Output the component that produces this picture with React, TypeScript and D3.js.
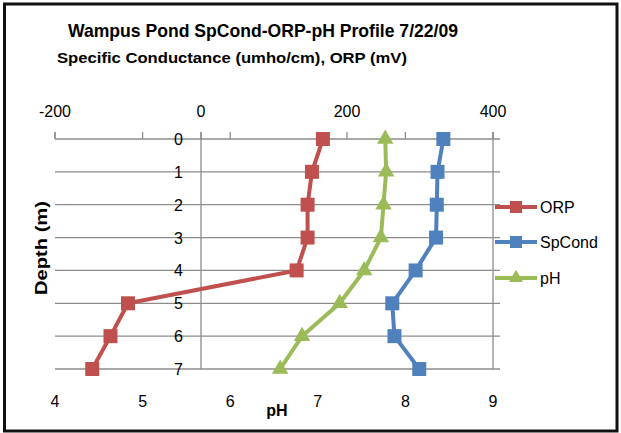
import React from "react";
import * as d3 from "d3";

// depth profile
const depths = [0, 1, 2, 3, 4, 5, 6, 7];
const orp = [167, 152, 146, 146, 131, -100, -124, -149];
const spCond = [332, 324, 323, 322, 294, 262, 265, 299];
const ph = [7.77, 7.78, 7.75, 7.72, 7.53, 7.25, 6.82, 6.57];

const topTicks = [-200, 0, 200, 400];
const phTicks = [4, 5, 6, 7, 8, 9];

const RED = "#C0504D";
const BLUE = "#4F81BD";
const GREEN = "#9BBB59";
const GRID = "#8c8c8c";
const FONT = "'Liberation Sans', Arial, sans-serif";

const W = 621;
const H = 433;
const plot = { left: 55, right: 493, top: 139, bottom: 369 };

const App = () => {
  const y = d3.scaleLinear().domain([0, 7]).range([plot.top, plot.bottom]);
  const xTop = d3.scaleLinear().domain([-200, 400]).range([plot.left, plot.right]);
  const xPh = d3.scaleLinear().domain([4, 9]).range([plot.left, plot.right]);

  const series = [
    { name: "ORP", color: RED, values: orp, x: xTop, marker: "square" },
    { name: "SpCond", color: BLUE, values: spCond, x: xTop, marker: "square" },
    { name: "pH", color: GREEN, values: ph, x: xPh, marker: "triangle" },
  ];

  const marker = (kind, cx, cy, color, s) =>
    kind === "square" ? (
      <rect x={cx - s / 2} y={cy - s / 2} width={s} height={s} fill={color} />
    ) : (
      <path
        d={d3.symbol().type(d3.symbolTriangle).size(s * s * 0.6)()}
        transform={`translate(${cx},${cy})`}
        fill={color}
      />
    );

  return (
    <div style={{ position: "absolute", left: 0, top: 0 }}>
      <svg width={W} height={H} style={{ display: "block" }}>
        <rect x={0} y={0} width={W} height={H} fill="#fff" />
        <rect x={4.5} y={4} width={612.5} height={427} fill="none" stroke="#111" strokeWidth={3} />

        {/* titles */}
        <text x={68} y={37} fontFamily={FONT} fontWeight="bold" fontSize={18.5}
          textLength={390} lengthAdjust="spacingAndGlyphs">
          Wampus Pond SpCond-ORP-pH Profile 7/22/09
        </text>
        <text x={57} y={63} fontFamily={FONT} fontWeight="bold" fontSize={14.5}
          textLength={350} lengthAdjust="spacingAndGlyphs">
          Specific Conductance  (umho/cm), ORP (mV)
        </text>

        {/* gridlines */}
        {depths.map(d => (
          <line key={"g" + d} x1={plot.left} x2={plot.right + 7} y1={y(d)} y2={y(d)}
            stroke={GRID} strokeWidth={1.3} />
        ))}
        <line x1={xTop(0)} x2={xTop(0)} y1={plot.top - 7} y2={plot.bottom} stroke={GRID} strokeWidth={1.3} />
        <line x1={plot.right} x2={plot.right} y1={plot.top - 7} y2={plot.bottom} stroke={GRID} strokeWidth={1.3} />

        {/* top tick marks */}
        {topTicks.map(t => (
          <line key={"tt" + t} x1={xTop(t)} x2={xTop(t)} y1={plot.top - 7} y2={plot.top}
            stroke={GRID} strokeWidth={1.3} />
        ))}
        {phTicks.map(t => (
          <line key={"pt" + t} x1={xPh(t)} x2={xPh(t)} y1={plot.top - 7} y2={plot.top}
            stroke={GRID} strokeWidth={1.3} />
        ))}

        {/* axis labels */}
        {topTicks.map(t => (
          <text key={"tl" + t} x={xTop(t)} y={117} textAnchor="middle" fontFamily={FONT} fontSize={16}>
            {t}
          </text>
        ))}
        {phTicks.map(t => (
          <text key={"pl" + t} x={xPh(t)} y={407} textAnchor="middle" fontFamily={FONT} fontSize={16}>
            {t}
          </text>
        ))}
        {depths.map(d => (
          <text key={"dl" + d} x={183} y={y(d) + 6} textAnchor="end" fontFamily={FONT} fontSize={16}>
            {d}
          </text>
        ))}
        <text x={277} y={416} textAnchor="middle" fontFamily={FONT} fontWeight="bold" fontSize={16}>
          pH
        </text>
        <text transform="translate(47,248) rotate(-90)" textAnchor="middle" fontFamily={FONT}
          fontWeight="bold" fontSize={16.5} textLength={94} lengthAdjust="spacingAndGlyphs">
          Depth (m)
        </text>

        {/* series */}
        {series.map(s => {
          const line = d3
            .line<number>()
            .x(v => s.x(v))
            .y((v, i) => y(depths[i]));
          return (
            <g key={s.name}>
              <path d={line(s.values) || ""} fill="none" stroke={s.color} strokeWidth={4}
                strokeLinejoin="round" />
              {s.values.map((v, i) => (
                <g key={i}>{marker(s.marker, s.x(v), y(depths[i]), s.color, 14)}</g>
              ))}
            </g>
          );
        })}

        {/* legend */}
        {series.map((s, i) => {
          const ly = [207, 242, 278][i];
          return (
            <g key={"lg" + s.name}>
              <line x1={495} x2={537} y1={ly} y2={ly} stroke={s.color} strokeWidth={4} />
              {marker(s.marker, 516, ly, s.color, 12)}
              <text x={540} y={ly + 6} fontFamily={FONT} fontSize={16}>
                {s.name}
              </text>
            </g>
          );
        })}
      </svg>
    </div>
  );
};

export default App;
